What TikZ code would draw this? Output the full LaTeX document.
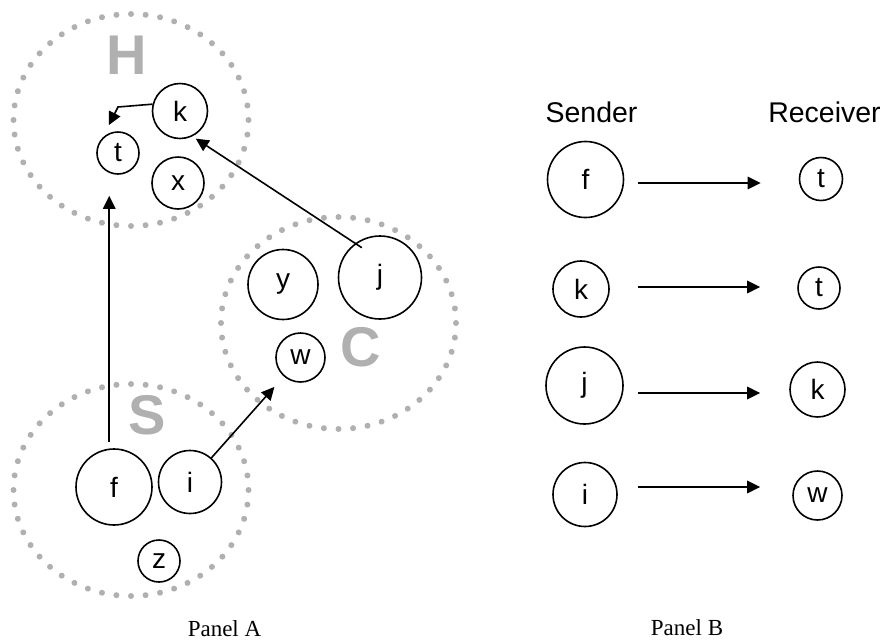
\documentclass[tikz,border=0pt]{standalone}
\usepackage{fontspec}
\setmainfont{Liberation Serif}
\setsansfont{Liberation Sans}
\usetikzlibrary{shapes.geometric, arrows.meta, positioning, calc, decorations.markings}
\definecolor{ringcolor}{RGB}{176, 176, 176}
\definecolor{arrowcolor}{RGB}{0, 0, 0}
\tikzset{
    % Base styles
    membernode/.style={
        circle, draw, line width=1.6pt, inner sep=0pt,
        font=\sffamily\fontsize{28}{28}\selectfont
    },
    % Dotted group rings
    ringdots/.style={
        postaction={decorate, decoration={markings,
            mark=between positions 0 and 0.99 step 14.64pt with {\fill[ringcolor] (0,0) circle (3pt);}}}
    },
    ringlabel/.style={font=\sffamily\bfseries\fontsize{56}{56}\selectfont, text=ringcolor, inner sep=0pt},
    % Labels
    headlabel/.style={font=\sffamily\fontsize{28.5}{28.5}\selectfont, inner sep=0pt, anchor=base},
    panellabel/.style={font=\rmfamily\fontsize{23}{23}\selectfont, inner sep=0pt, anchor=base},
    % Arrows
    myarrow/.style={-{Triangle[length=13pt, width=12.5pt]}, line width=1.6pt, arrowcolor},
}
\begin{document}
\begin{tikzpicture}[x=1pt, y=-1pt]
\useasboundingbox (0,0) rectangle (884,641);

% ===== PANEL A: groups =====
\path[ringdots] (131,120) ellipse [x radius=117.5, y radius=106];
\path[ringdots] (131,490) ellipse [x radius=117.5, y radius=106];
\path[ringdots] (338.5,323) ellipse [x radius=117.5, y radius=106];

\node (labH) [ringlabel] at (127,55) {H};
\node (labS) [ringlabel] at (147.5,415) {S};
\node (labC) [ringlabel] at (361,347) {C};

% Members of H
\node (k) [membernode, minimum size=55pt] at (180,111) {k};
\node (t) [membernode, minimum size=42pt] at (118,153) {t};
\node (x) [membernode, minimum size=52pt] at (178,183) {x};

% Members of C
\node (y) [membernode, minimum size=70pt] at (283,284.5) {y};
\node (j) [membernode, minimum size=83pt] at (380,277.5) {j};
\node (w) [membernode, minimum size=49pt] at (300.5,357.5) {w};

% Members of S
\node (f) [membernode, minimum size=76pt] at (114,487) {f};
\node (i) [membernode, minimum size=63pt] at (190,482) {i};
\node (z) [membernode, minimum size=42pt] at (159,561) {z};

% Messages
\coordinate (kbend) at (118,107);
\draw[myarrow, shorten >=14pt] (k.166) -- (kbend) -- (t.135);
\draw[myarrow, shorten <=-8pt, shorten >=4pt] (j.126) -- (k.-64);
\draw[myarrow, shorten <=6pt, shorten >=21pt] (f.97) -- (f.97 |- t.south);
\draw[myarrow, shorten >=14pt] (i) -- (w);

\node (panelA) [panellabel] at (224.5,636) {Panel A};

% ===== PANEL B: sender / receiver pairs =====
\node (sender) [headlabel] at (591.5,122) {Sender};
\node (receiver) [headlabel] at (824.5,122) {Receiver};

\node (sf) [membernode, minimum size=76pt] at (585.5,179.5) {f};
\node (rt1) [membernode, minimum size=43pt] at (821,179) {t};
\draw[myarrow, shorten <=13.5pt, shorten >=38pt] ([yshift=-3.5pt]sf.east) -- ([yshift=-3.5pt]sf.east -| rt1.west);

\node (sk) [membernode, minimum size=56pt] at (581,289) {k};
\node (rt2) [membernode, minimum size=42pt] at (819,288) {t};
\draw[myarrow, shorten <=28pt, shorten >=37pt] ([yshift=2pt]sk.east) -- ([yshift=2pt]sk.east -| rt2.west);

\node (sj) [membernode, minimum size=77pt] at (584.5,385.5) {j};
\node (rk) [membernode, minimum size=55pt] at (817.5,389.5) {k};
\draw[myarrow, shorten <=14pt, shorten >=29pt] ([yshift=-7.5pt]sj.east) -- ([yshift=-7.5pt]sj.east -| rk.west);

\node (si) [membernode, minimum size=64pt] at (585,494.5) {i};
\node (rw) [membernode, minimum size=49pt] at (817.5,495.5) {w};
\draw[myarrow, shorten <=20pt, shorten >=32pt] ([yshift=7.5pt]si.east) -- ([yshift=7.5pt]si.east -| rw.west);

\node (panelB) [panellabel] at (687,635) {Panel B};

\end{tikzpicture}
\end{document}
